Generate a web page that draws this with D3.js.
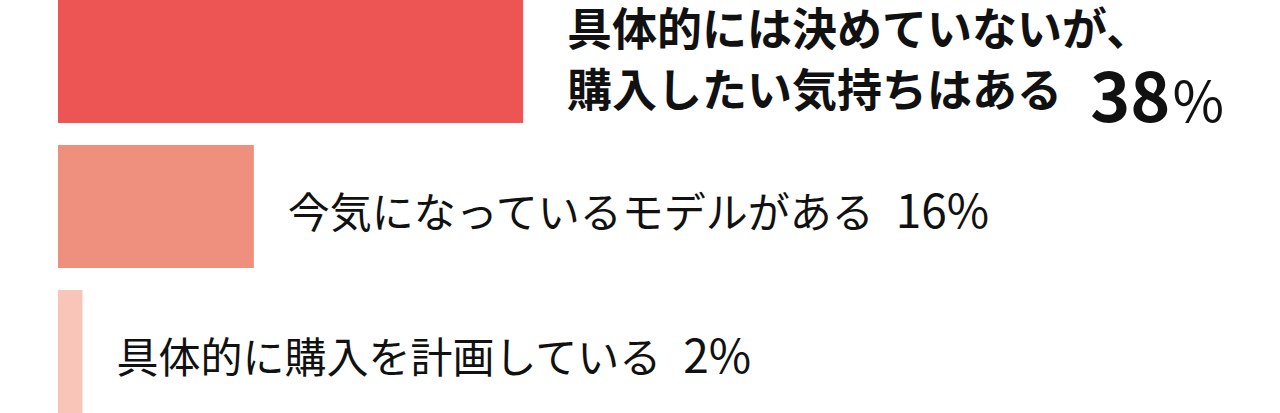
<!DOCTYPE html>
<html>
<head>
<meta charset="utf-8">
<script src="https://cdn.jsdelivr.net/npm/d3@7"></script>
<style>
  html, body { margin: 0; padding: 0; background: #fff; }
  svg { display: block; }
  text { font-family: "Noto Sans CJK JP", "Noto Sans", sans-serif; fill: #111; }
</style>
</head>
<body>
<div id="chart"></div>
<script>
// data
var categories = ["undecided", "interested", "planned"];
var labelLines = [
  ["具体的には決めていないが、", "購入したい気持ちはある"],
  ["今気になっているモデルがある"],
  ["具体的に購入を計画している"]
];
var values = [38, 16, 2];

var width = 1280;
var height = 413;

var svg = d3.select('#chart')
  .append('svg')
  .attr('width', width)
  .attr('height', height);

var x = d3.scaleLinear()
  .domain([0, 100])
  .range([58, 1282]);

var y = d3.scaleBand()
  .domain(categories)
  .range([0, height])
  .paddingInner(0.152)
  .paddingOuter(0);

var color = d3.scaleOrdinal()
  .domain(categories)
  .range(['#ec5553', '#ef8f7d', '#f8c5b8']);

var rows = categories.map(function(c, i) {
  return { key: c, lines: labelLines[i], value: values[i], top: i === 0 };
});

svg.append('g').selectAll('rect')
  .data(rows)
  .enter()
  .append('rect')
  .attr('x', x(0))
  .attr('y', function(d) { return y(d.key); })
  .attr('width', function(d) { return x(d.value) - x(0); })
  .attr('height', y.bandwidth())
  .attr('fill', function(d) { return color(d.key); });

function labelX(d) { return x(d.value) + (d.top ? 44 : 34); }

var labels = svg.append('g').selectAll('text')
  .data(rows)
  .enter()
  .append('text')
  .attr('x', labelX)
  .attr('y', function(d) {
    var mid = y(d.key) + y.bandwidth() / 2;
    return d.top ? mid - 16 : mid + 21;
  })
  .style('font-size', function(d) { return d.top ? '45px' : '42px'; })
  .style('font-weight', function(d) { return d.top ? 700 : 400; });

labels.each(function(d) {
  var t = d3.select(this);
  d.lines.forEach(function(line, j) {
    t.append('tspan')
      .attr('x', labelX(d))
      .attr('dy', j === 0 ? 0 : 62)
      .text(line);
  });
  if (d.top) {
    // big number, sits a bit lower than the text line
    t.append('tspan')
      .attr('dx', 28)
      .attr('dy', 15)
      .style('font-size', '68px')
      .text(d.value);
    t.append('tspan')
      .attr('dx', 2)
      .style('font-size', '56px')
      .style('font-weight', 400)
      .text('%');
  } else {
    t.append('tspan')
      .attr('dx', 22)
      .style('font-size', '46px')
      .text(d.value + '%');
  }
});
</script>
</body>
</html>
